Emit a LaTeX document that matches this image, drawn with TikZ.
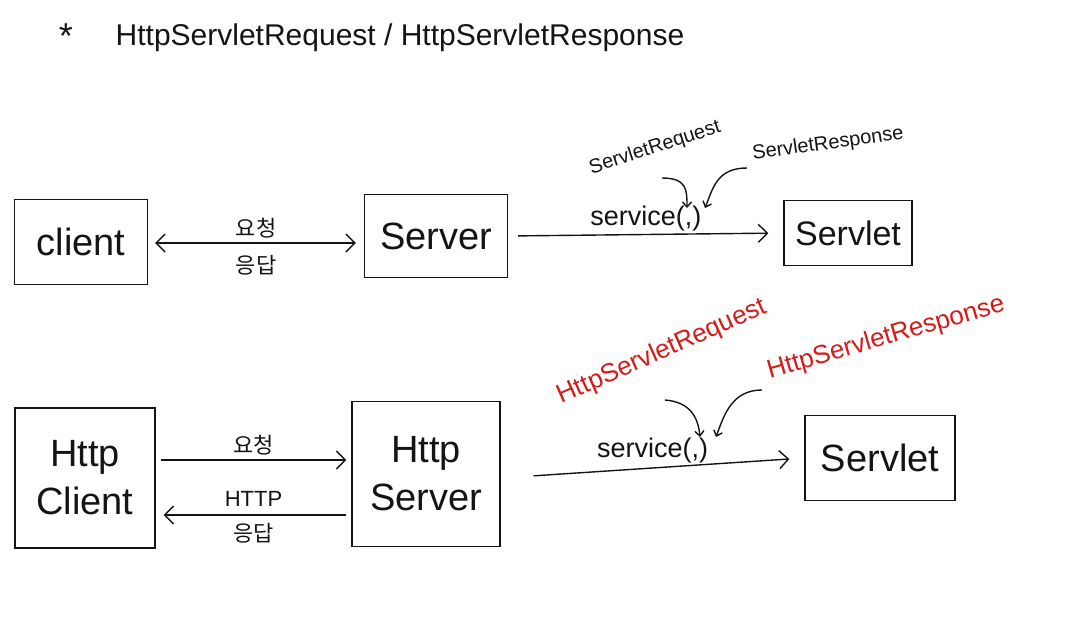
\documentclass[tikz,border=0pt]{standalone}
\usepackage{fontspec}
\setmainfont{Liberation Sans}
\newfontfamily\kr{Noto Sans CJK KR}
\usepackage{tikz}
\usetikzlibrary{arrows.meta,calc,positioning}
\definecolor{ink}{RGB}{20,20,20}
\definecolor{pen}{RGB}{215,25,25}
\newcommand{\fs}[1]{\fontsize{#1}{#1}\selectfont}

\begin{document}
\begin{tikzpicture}[x=1pt,y=-1pt,>={Straight Barb[length=9pt,width=18pt]},
  every path/.style={line width=1.4pt,color=ink},
  box/.style={draw,line width=1.4pt,font=\fs{38},align=center,inner sep=0pt,text=ink},
  lbl/.style={font=\fs{22},text=ink,inner sep=2pt},
  svclbl/.style={font=\fs{27},text=ink,inner sep=2pt},
  arg/.style={font=\fs{20},text=ink,inner sep=1pt},
  redarg/.style={font=\fs{26},text=pen,inner sep=1pt},
  small/.style={>={Straight Barb[length=5pt,width=9pt]}}]
  \useasboundingbox (0,0) rectangle (1079,627);
  % heading
  \node[font=\fs{36},text=ink] (star) at (66,36) {*};
  \node[font=\fs{30},text=ink] (title) at (400,38) {HttpServletRequest / HttpServletResponse};
  % first row
  \node[box,minimum width=133,minimum height=85] (client) at (81,242) {client};
  \node[box,minimum width=143,minimum height=83] (server) at (436,236) {Server};
  \node[box,minimum width=128,minimum height=65,font=\fs{34}] (servlet) at (848,233) {Servlet};
  \draw[<->,shorten <=7pt,shorten >=8pt] (client.east |- 0,243) -- node[lbl,above=2pt] {\kr 요청} node[lbl,below=10pt] {\kr 응답} (server.west |- 0,243);
  \draw[->,shorten <=10pt,shorten >=15pt] (server.east) -- node[svclbl,above=1pt] (svc) {service(,)} (servlet.west);
  \node[arg,rotate=18] (req) at (655,148) {ServletRequest};
  \node[arg,rotate=8] (res) at (828,144) {ServletResponse};
  \coordinate (reqend) at (687,208);
  \coordinate (resend) at (705,208);
  \draw[->,small] ([shift={(7,30)}]req.center) .. controls +(25,0) and +(0,-18) .. (reqend);
  \draw[->,small] ([shift={(-81,24)}]res.center) .. controls +(-30,0) and +(8,-20) .. (resend);
  % second row
  \node[box,minimum width=140,minimum height=140] (hclient) at (85,478) {Http\\[10pt]Client};
  \node[box,minimum width=148,minimum height=145] (hserver) at (426,474) {Http\\[10pt]Server};
  \node[box,minimum width=150,minimum height=85] (hservlet) at (880,458) {Servlet};
  \draw[->,shorten <=5pt,shorten >=5pt] ([yshift=18pt]hclient.east) -- node[lbl,above=2pt] {\kr 요청} ([yshift=14pt]hserver.west);
  \draw[->,shorten <=5pt,shorten >=8pt] ([yshift=-41pt]hserver.west) -- node[lbl,above=6pt] {HTTP} node[lbl,below=6pt] {\kr 응답} ([yshift=-37pt]hclient.east);
  \draw[->,shorten <=33pt,shorten >=15pt] ([yshift=-4pt]hserver.east) -- node[svclbl,above=2pt] (hsvc) {service(,)} (hservlet.west);
  \node[redarg,rotate=24] (hreq) at (662,352) {HttpServletRequest};
  \node[redarg,rotate=16] (hres) at (886,338) {HttpServletResponse};
  \coordinate (hreqend) at (700,437);
  \coordinate (hresend) at (716,437);
  \draw[->,small] ([shift={(3,48)}]hreq.center) .. controls +(25,2) and +(-2,-20) .. (hreqend);
  \draw[->,small] ([shift={(-124,52)}]hres.center) .. controls +(-30,0) and +(8,-22) .. (hresend);
\end{tikzpicture}
\end{document}
